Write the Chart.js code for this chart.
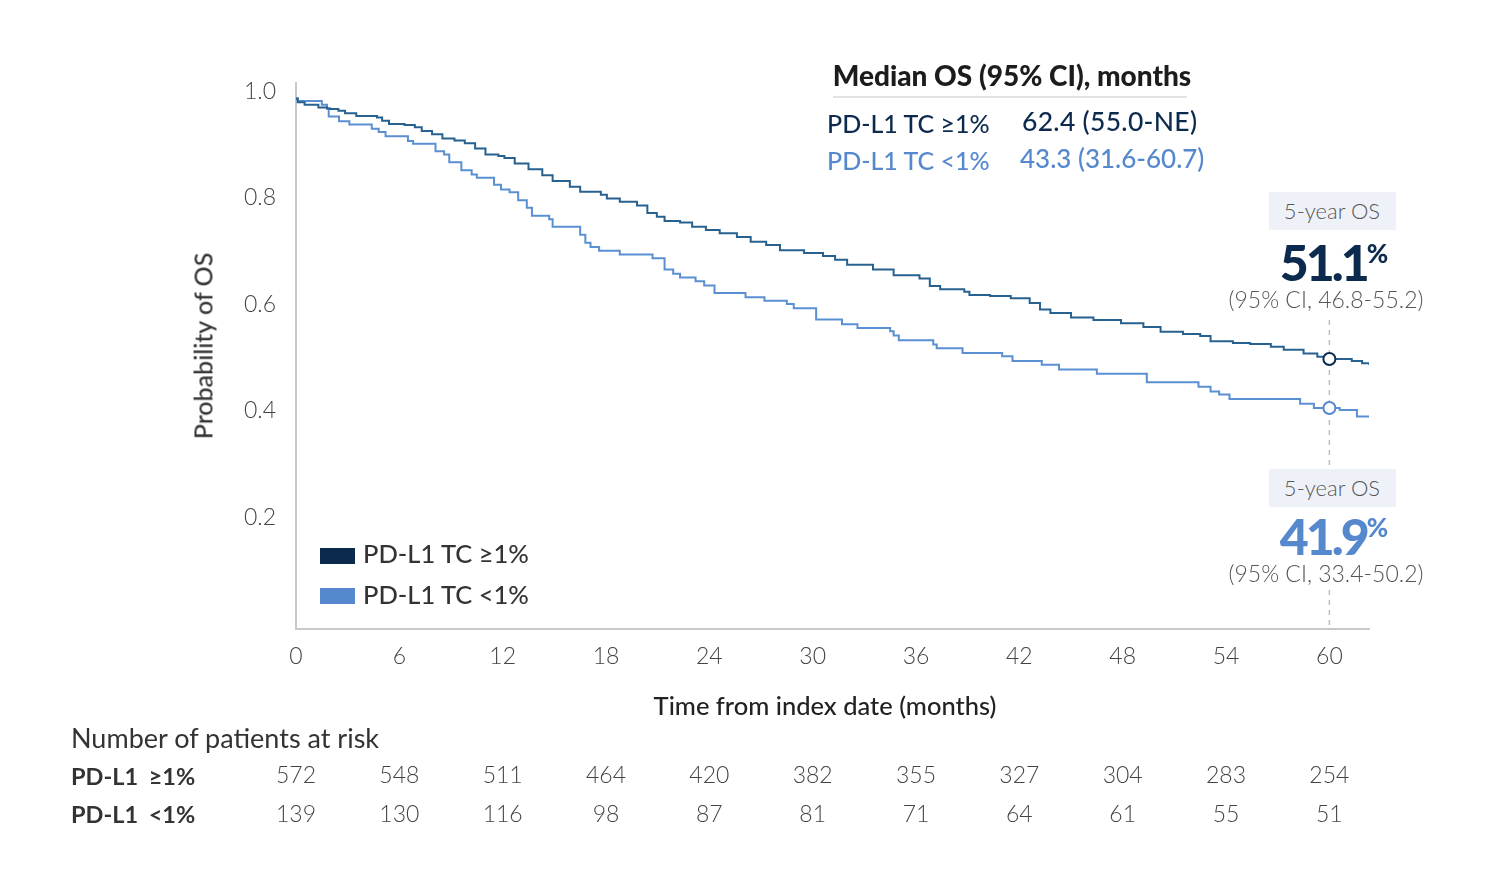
<!DOCTYPE html>
<html>
<head>
<meta charset="utf-8">
<script src="https://cdn.jsdelivr.net/npm/chart.js@4"></script>
<style>
  html, body { margin:0; padding:0; background:#fff; }
  #wrap { position:relative; width:1500px; height:880px; font-family: Lato, "Open Sans", sans-serif; }
  #c { position:absolute; left:0; top:0; }
  .t { position:absolute; white-space:nowrap; line-height:1; }
  .vc { transform: translateY(-50%); }
  .cc { transform: translate(-50%,-50%); }
</style>
</head>
<body>
<div id="wrap">
  <canvas id="c" width="1500" height="880"></canvas>
</div>
<script>
// ---------- data ----------
const seriesNames = ["PD-L1 TC \u22651%", "PD-L1 TC <1%"];
const hiTimes = [0, 0.1, 0.5, 1.3, 1.8, 2.0, 2.46, 2.85, 3.5, 4.7, 5.0, 5.4, 6.3, 6.9, 7.3, 7.9, 8.5, 9.2, 9.8, 10.4, 11.0, 11.75, 12.1, 12.7, 13.5, 14.3, 14.9, 15.9, 16.5, 17.7, 18.05, 18.8, 19.8, 20.4, 20.95, 21.4, 22.3, 23.0, 23.8, 24.6, 25.6, 26.4, 27.3, 28.1, 29.5, 30.6, 31.3, 32.0, 33.5, 34.7, 36.2, 36.8, 37.4, 38.8, 39.1, 40.3, 41.5, 42.6, 43.2, 43.8, 45.0, 46.3, 47.9, 49.2, 50.2, 51.5, 52.5, 53.1, 54.4, 55.4, 56.6, 57.35, 58.5, 59.3, 59.9, 61.3, 61.9, 62.3];
const hiSurv  = [1.0, 0.993, 0.988, 0.983, 0.981, 0.980, 0.977, 0.972, 0.967, 0.964, 0.958, 0.952, 0.950, 0.946, 0.939, 0.933, 0.925, 0.921, 0.916, 0.906, 0.895, 0.892, 0.888, 0.878, 0.867, 0.856, 0.845, 0.834, 0.825, 0.819, 0.812, 0.806, 0.799, 0.785, 0.778, 0.770, 0.767, 0.759, 0.753, 0.747, 0.740, 0.731, 0.725, 0.715, 0.710, 0.704, 0.697, 0.688, 0.679, 0.668, 0.662, 0.648, 0.642, 0.637, 0.631, 0.629, 0.625, 0.616, 0.604, 0.597, 0.589, 0.584, 0.578, 0.571, 0.562, 0.558, 0.554, 0.544, 0.541, 0.539, 0.534, 0.528, 0.521, 0.515, 0.511, 0.507, 0.503, 0.500];
const loTimes = [0, 0.1, 1.5, 1.8, 1.9, 2.5, 3.1, 4.4, 4.8, 5.2, 6.5, 6.8, 8.1, 8.6, 8.9, 9.6, 10.2, 10.5, 11.5, 11.9, 12.4, 12.9, 13.4, 13.7, 14.7, 14.9, 16.5, 16.8, 17.1, 17.6, 18.8, 20.7, 21.4, 21.9, 22.3, 23.2, 23.7, 24.3, 26.1, 27.2, 28.5, 28.9, 30.2, 31.7, 32.6, 34.5, 34.7, 35.0, 37.0, 37.2, 38.7, 41.0, 41.6, 43.3, 44.3, 46.5, 49.4, 52.4, 53.1, 53.6, 54.2, 58.3, 59.1, 60.6, 61.6, 62.3];
const loSurv  = [1.0, 0.995, 0.988, 0.981, 0.966, 0.957, 0.951, 0.943, 0.937, 0.929, 0.920, 0.915, 0.901, 0.895, 0.880, 0.865, 0.857, 0.851, 0.838, 0.829, 0.824, 0.809, 0.795, 0.780, 0.773, 0.759, 0.744, 0.729, 0.721, 0.714, 0.707, 0.700, 0.679, 0.671, 0.664, 0.657, 0.649, 0.635, 0.627, 0.620, 0.614, 0.606, 0.585, 0.576, 0.569, 0.563, 0.555, 0.546, 0.538, 0.531, 0.522, 0.516, 0.507, 0.500, 0.491, 0.483, 0.467, 0.459, 0.450, 0.444, 0.436, 0.427, 0.419, 0.415, 0.403, 0.403];
const fiveYearMonth = 60;
const fiveYearOS = [0.511, 0.419];
const fiveYearText = ["51.1", "41.9"];
const fiveYearCI = ["(95% CI, 46.8-55.2)", "(95% CI, 33.4-50.2)"];
const medianOS = ["62.4 (55.0-NE)", "43.3 (31.6-60.7)"];
const xTicks = [0, 6, 12, 18, 24, 30, 36, 42, 48, 54, 60];
const yTicks = [0.2, 0.4, 0.6, 0.8, 1.0];
const riskLabels = ["PD-L1 \u22651%", "PD-L1 <1%"];
const riskHi = [572, 548, 511, 464, 420, 382, 355, 327, 304, 283, 254];
const riskLo = [139, 130, 116, 98, 87, 81, 71, 64, 61, 55, 51];

// ---------- colours ----------
const NAVY = "#0c2a4d", LIGHT = "#5588cc";
const LINE_DARK = "#27618f", LINE_LIGHT = "#5a8fd2";

const toXY = (ts, ss) => ts.map((t, i) => ({x: t, y: ss[i]}));

const dashPlugin = {
  id: "dash5y",
  beforeDatasetsDraw(chart) {
    const ctx = chart.ctx, x = chart.scales.x.getPixelForValue(fiveYearMonth);
    const b = chart.chartArea.bottom;
    ctx.save();
    ctx.strokeStyle = "#bdbdbd"; ctx.lineWidth = 1.5; ctx.setLineDash([5, 5]);
    ctx.beginPath();
    ctx.moveTo(x, 320); ctx.lineTo(x, 466);
    ctx.moveTo(x, 590); ctx.lineTo(x, b);
    ctx.stroke();
    ctx.restore();
  }
};

const lightFont = {family: "Lato, 'Open Sans', sans-serif", size: 23, weight: "300"};

const chart = new Chart(document.getElementById("c"), {
  type: "line",
  data: {
    datasets: [
      {type: "scatter", data: [{x: fiveYearMonth, y: fiveYearOS[0]}], pointRadius: 6, pointBorderWidth: 2, pointBackgroundColor: "#fff", pointBorderColor: NAVY, showLine: false},
      {type: "scatter", data: [{x: fiveYearMonth, y: fiveYearOS[1]}], pointRadius: 6, pointBorderWidth: 2, pointBackgroundColor: "#fff", pointBorderColor: LIGHT, showLine: false},
      {label: seriesNames[0], data: toXY(hiTimes, hiSurv), stepped: "before", borderColor: LINE_DARK, borderWidth: 2, pointRadius: 0, fill: false},
      {label: seriesNames[1], data: toXY(loTimes, loSurv), stepped: "before", borderColor: LINE_LIGHT, borderWidth: 2, pointRadius: 0, fill: false}
    ]
  },
  options: {
    responsive: false,
    animation: false,
    events: [],
    layout: {padding: {left: 0, top: 83, right: 131, bottom: 0}},
    plugins: {legend: {display: false}, tooltip: {enabled: false}},
    scales: {
      x: {
        type: "linear", min: 0, max: 62.3,
        grid: {display: false, drawTicks: false},
        border: {display: true, color: "#c8c8c8", width: 2},
        afterBuildTicks: a => { a.ticks = xTicks.map(v => ({value: v})); },
        afterFit: a => { a.height = 251; },
        ticks: {font: lightFont, color: "#444", padding: 14, maxRotation: 0, autoSkip: false}
      },
      y: {
        type: "linear", min: 0.004, max: 1.029,
        grid: {display: false, drawTicks: false},
        border: {display: true, color: "#c8c8c8", width: 2},
        afterBuildTicks: a => { a.ticks = yTicks.map(v => ({value: v})); },
        afterFit: a => { a.width = 296; },
        ticks: {font: lightFont, color: "#444", padding: 20, labelOffset: -7, callback: v => Number(v).toFixed(1)}
      }
    }
  },
  plugins: [dashPlugin]
});

// ---------- HTML text overlays ----------
const wrap = document.getElementById("wrap");
function addText(txt, x, y, cls, style) {
  const d = document.createElement("div");
  d.className = "t " + cls;
  d.textContent = txt;
  d.style.left = x + "px"; d.style.top = y + "px";
  Object.assign(d.style, style || {});
  wrap.appendChild(d);
  return d;
}
function addBox(x, y, w, h, bg) {
  const d = document.createElement("div");
  Object.assign(d.style, {position: "absolute", left: x + "px", top: y + "px", width: w + "px", height: h + "px", background: bg});
  wrap.appendChild(d);
}

// axis titles
addText("Probability of OS", 203, 346, "", {transform: "translate(-50%,-50%) rotate(-90deg)", fontSize: "25px", fontWeight: "500", color: "#333"});
const xs = chart.scales.x;
addText("Time from index date (months)", 825, 706, "cc", {fontSize: "25.5px", fontWeight: "500", color: "#222"});

// median OS header
addText("Median OS (95% CI), months", 1012, 75, "cc", {fontSize: "28px", fontWeight: "900", color: "#1c1c1c"});
addBox(833, 96, 354, 2, "#e2e2e2");
addText(seriesNames[0], 827, 123, "vc", {fontSize: "25px", fontWeight: "500", color: NAVY});
addText(medianOS[0], 1022, 121, "vc", {fontSize: "26.5px", fontWeight: "500", color: NAVY, letterSpacing: "0.3px"});
addText(seriesNames[1], 827, 160, "vc", {fontSize: "25px", fontWeight: "500", color: LIGHT});
addText(medianOS[1], 1020, 158, "vc", {fontSize: "26px", fontWeight: "500", color: LIGHT});

// legend
addBox(320, 548, 35, 16, NAVY);
addBox(320, 588, 35, 16, LIGHT);
addText(seriesNames[0], 363, 554, "vc", {fontSize: "25.5px", fontWeight: "500", color: "#333"});
addText(seriesNames[1], 363, 595, "vc", {fontSize: "25.5px", fontWeight: "500", color: "#333"});

// 5-year annotations
function fiveYear(i, boxTop, numY, ciY, color) {
  addBox(1269, boxTop, 127, 38, "#eef2f8");
  addText("5-year OS", 1332, boxTop + 19, "cc", {fontSize: "22px", fontWeight: "300", color: "#555"});
  const d = addText("", 1334, numY, "cc", {fontSize: "50px", fontWeight: "900", color: color, letterSpacing: "-3px"});
  d.innerHTML = fiveYearText[i] + '<span style="font-size:26px;vertical-align:18px;letter-spacing:0">%</span>';
  addText(fiveYearCI[i], 1326, ciY, "cc", {fontSize: "23px", fontWeight: "300", color: "#555"});
}
fiveYear(0, 192, 262, 299, NAVY);
fiveYear(1, 469, 536, 573, LIGHT);

// at-risk table
addText("Number of patients at risk", 71, 737, "vc", {fontSize: "27px", fontWeight: "400", color: "#333"});
addText(riskLabels[0], 71, 777, "vc", {fontSize: "23.5px", fontWeight: "700", color: "#333", wordSpacing: "5px"});
addText(riskLabels[1], 71, 815, "vc", {fontSize: "23.5px", fontWeight: "700", color: "#333", wordSpacing: "5px"});
xTicks.forEach((t, i) => {
  const px = xs.getPixelForValue(t);
  addText(String(riskHi[i]), px, 774, "cc", {fontSize: "23px", fontWeight: "300", color: "#444"});
  addText(String(riskLo[i]), px, 813, "cc", {fontSize: "23px", fontWeight: "300", color: "#444"});
});
</script>
</body>
</html>
